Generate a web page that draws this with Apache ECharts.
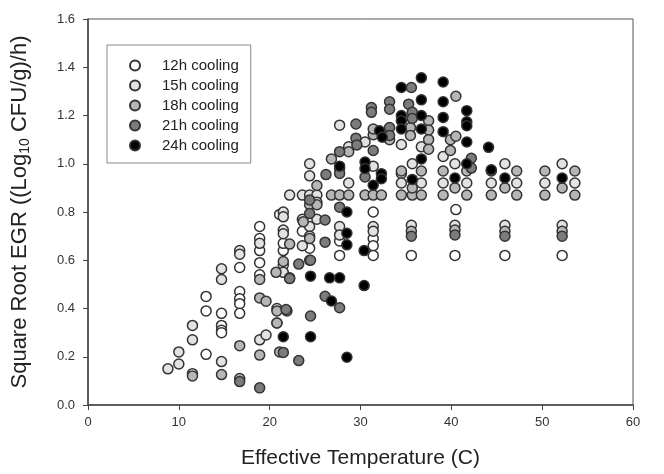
<!DOCTYPE html>
<html>
<head>
<meta charset="utf-8">
<script src="https://cdn.jsdelivr.net/npm/echarts@6/dist/echarts.min.js"></script>
<style>html,body{margin:0;padding:0;background:#fff}#c{width:664px;height:474px}</style>
</head>
<body>
<div id="c"></div>
<script>
const seriesNames = ['12h cooling','15h cooling','18h cooling','21h cooling','24h cooling'];
const xTicks = [0,10,20,30,40,50,60];
const yTicks = [0.0,0.2,0.4,0.6,0.8,1.0,1.2,1.4,1.6];

const cool12 = [
 [11.5,0.13],[13.0,0.45],[13.0,0.39],[13.0,0.21],
 [14.7,0.38],[14.7,0.33],[14.7,0.31],[14.7,0.30],
 [16.7,0.57],[16.7,0.47],[16.7,0.44],[16.7,0.42],[16.7,0.38],
 [18.9,0.74],[18.9,0.69],[18.9,0.64],[18.9,0.59],[18.9,0.54],
 [21.1,0.79],[21.5,0.64],[21.5,0.58],[21.5,0.67],
 [23.6,0.72],[24.4,0.65],
 [27.7,0.68],[27.7,0.62],
 [31.4,0.80],[31.4,0.69],[31.4,0.66],[31.4,0.62],
 [35.6,0.62],[40.4,0.62],[45.9,0.62],[52.2,0.62],
 [40.5,0.81]
];
const cool15 = [
 [8.8,0.15],[10.0,0.22],[10.0,0.17],[11.5,0.33],[11.5,0.27],
 [14.7,0.565],[14.7,0.52],[14.7,0.18],
 [16.7,0.64],[16.7,0.625],
 [18.9,0.67],[18.9,0.27],[19.6,0.29],
 [20.8,0.34],[20.8,0.40],
 [21.5,0.80],[21.5,0.78],[21.5,0.725],[21.5,0.71],[21.5,0.55],
 [22.2,0.87],[23.6,0.87],[23.6,0.77],[23.6,0.66],
 [24.4,1.00],[24.4,0.95],[24.4,0.87],[24.4,0.74],[24.4,0.70],
 [25.2,0.87],[25.2,0.84],[25.2,0.77],
 [27.7,1.16],[27.7,0.74],[27.7,0.705],
 [28.7,1.07],[28.7,0.92],
 [30.5,1.09],[31.4,0.99],[31.4,0.74],[31.4,0.72],
 [34.5,1.08],[34.5,0.96],[34.5,0.92],
 [35.7,1.00],[35.6,0.745],
 [36.7,1.07],[39.1,1.03],[40.4,1.00],[40.4,0.745],
 [45.9,1.00],[52.2,1.00],[45.9,0.745],[52.2,0.745],
 [36.7,0.92],[39.1,0.92],[41.7,0.92],[44.4,0.92],[47.2,0.92],[50.3,0.92],[53.6,0.92]
];
const cool18 = [
 [11.5,0.12],[14.7,0.126],[16.7,0.246],[16.7,0.11],
 [18.9,0.52],[18.9,0.444],[19.6,0.43],[18.9,0.207],
 [20.7,0.55],[20.8,0.39],[20.8,0.34],[21.1,0.22],[22.2,0.527],[21.9,0.39],[21.5,0.595],
 [22.2,0.667],[23.7,0.76],[24.4,0.69],[24.4,0.60],[25.2,0.91],[26.8,0.87],[26.8,1.02],
 [24.4,0.83],[25.2,0.83],
 [27.7,0.87],[28.7,0.87],[30.5,0.87],[31.4,0.87],[32.3,0.87],[34.5,0.87],
 [31.4,1.12],[31.4,1.144],[33.2,1.10],[35.5,1.15],[35.5,1.117],
 [37.5,1.178],[37.5,1.14],[37.5,1.10],[37.5,1.06],[39.9,1.10],[39.9,1.055],[40.5,1.28],[40.5,1.114],
 [34.5,0.97],[36.7,0.97],[39.1,0.97],[41.7,0.97],[44.4,0.97],[47.2,0.97],[50.3,0.97],[53.6,0.97],
 [35.7,0.87],[36.7,0.87],[39.1,0.87],[41.7,0.87],[44.4,0.87],[47.2,0.87],[50.3,0.87],[53.6,0.87],
 [35.7,0.90],[40.4,0.90],[45.9,0.90],[52.2,0.90],
 [35.6,0.72],[40.4,0.725],[45.9,0.72],[52.2,0.72],
 [28.7,1.05]
];
const cool21 = [
 [16.7,0.097],[18.9,0.071],[21.5,0.218],[23.2,0.184],[21.8,0.396],[23.2,0.584],[24.5,0.60],[24.5,0.369],
 [26.1,0.451],[27.7,0.403],[26.1,0.675],[26.1,0.767],[27.7,0.82],[24.4,0.794],[24.4,0.85],[26.2,0.955],
 [27.7,1.05],[27.7,0.98],[27.7,0.96],[29.5,1.165],[29.5,1.106],[29.6,1.078],
 [31.2,1.233],[31.2,1.213],[33.2,1.257],[33.2,1.226],[33.2,1.15],[33.2,1.117],
 [35.6,1.316],[35.3,1.247],[35.7,1.213],[35.7,1.188],[31.4,1.055],[42.2,1.023],[42.2,0.982],[30.5,0.945],
 [22.2,0.524],[35.6,0.70],[40.4,0.705],[45.9,0.70],[52.2,0.70]
];
const cool24 = [
 [21.5,0.283],[24.5,0.283],[28.5,0.198],[24.5,0.534],[26.6,0.527],[27.7,0.527],[26.8,0.431],[30.4,0.495],[30.4,0.64],
 [28.5,0.664],[28.5,0.712],[28.5,0.80],[27.7,0.99],[30.5,1.007],[30.5,0.98],[31.4,0.911],[32.3,0.959],[32.3,0.938],
 [32.1,1.137],[32.4,1.11],[34.5,1.316],[34.5,1.20],[34.5,1.178],[34.5,1.144],
 [36.7,1.356],[36.7,1.265],[36.7,1.20],[36.7,1.144],[36.7,1.02],
 [39.1,1.339],[39.1,1.257],[39.1,1.192],[39.1,1.133],
 [41.7,1.22],[41.7,1.174],[41.7,1.158],[41.7,1.09],[41.7,1.00],
 [44.1,1.068],[44.4,0.975],[35.7,0.935],[40.4,0.941],[45.9,0.941],[52.2,0.941]
];
const seriesData = [cool12, cool15, cool18, cool21, cool24];
const fills = ['#ffffff','#e2e2e2','#b6b6b6','#7c7c7c','#000000'];

const FONT = '"Liberation Sans", Arial, sans-serif';
const chart = echarts.init(document.getElementById('c'), null, {renderer:'canvas'});
chart.setOption({
  animation: false,
  backgroundColor: '#fff',
  grid: {left: 88, right: 31, top: 19, bottom: 66, show: true, borderColor: '#555', borderWidth: 1},
  legend: {
    orient: 'vertical', left: 107, top: 45,
    padding: [13, 12, 10, 22],
    borderColor: '#888', borderWidth: 1,
    itemWidth: 44, itemHeight: 10, itemGap: 5,
    textStyle: {fontFamily: FONT, fontSize: 15, color: '#222', lineHeight: 15},
    data: seriesNames
  },
  xAxis: {
    type: 'value', min: 0, max: 60, interval: 10,
    name: 'Effective Temperature (C)', nameLocation: 'middle', nameGap: 43,
    nameTextStyle: {fontFamily: FONT, fontSize: 21, color: '#222'},
    axisLine: {show: true, lineStyle: {color: '#444', width: 1.5}},
    axisTick: {show: true, length: 5, lineStyle: {color: '#444'}},
    axisLabel: {fontFamily: FONT, fontSize: 13, color: '#333', margin: 11,
      formatter: v => xTicks.includes(v) ? String(v) : ''},
    splitLine: {show: false}
  },
  yAxis: {
    type: 'value', min: 0, max: 1.6, interval: 0.2,
    name: 'Square Root EGR ((Log{sub|10} CFU/g)/h)', nameLocation: 'middle', nameGap: 56,
    nameTextStyle: {fontFamily: FONT, fontSize: 22, color: '#222',
      rich: {sub: {fontFamily: FONT, fontSize: 14, color: '#222', padding: [10, 0, 0, 0]}}},
    axisLine: {show: true, lineStyle: {color: '#444', width: 1.5}},
    axisTick: {show: true, length: 5, lineStyle: {color: '#444'}},
    axisLabel: {fontFamily: FONT, fontSize: 13, color: '#333', margin: 13,
      formatter: v => yTicks.some(t => Math.abs(t - v) < 1e-9) ? v.toFixed(1) : ''},
    splitLine: {show: false}
  },
  series: seriesNames.map((n, i) => ({
    name: n, type: 'scatter', symbol: 'circle', symbolSize: 10,
    itemStyle: {color: fills[i], borderColor: '#333', borderWidth: 1.5, opacity: 1},
    data: seriesData[i]
  }))
});
</script>
</body>
</html>
